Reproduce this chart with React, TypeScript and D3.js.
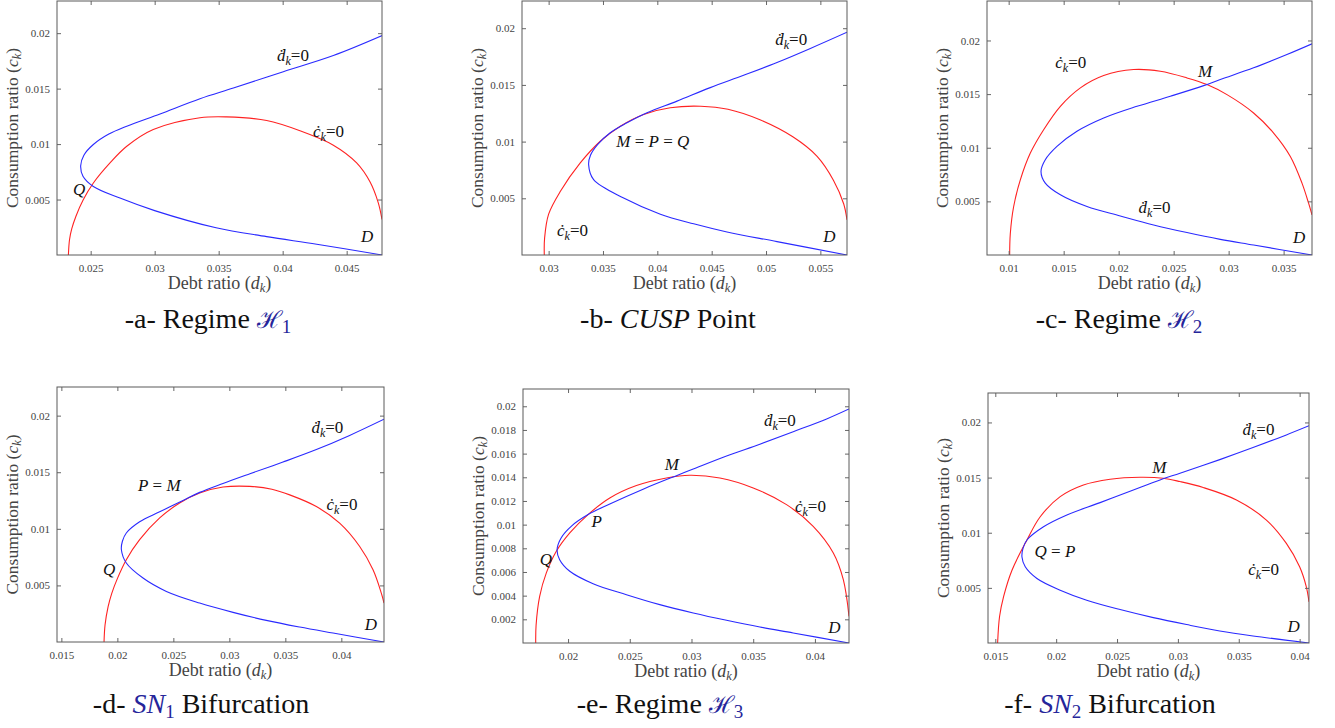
import React, { useEffect, useRef } from 'react';
import * as d3 from 'd3';

type Pt = [number, number];

// -a- Regime H1
const blueA: Pt[] = [
  [0.04779, 0.01979], [0.04396, 0.01798], [0.04005, 0.01653], [0.03615, 0.01505], [0.03354, 0.01409],
  [0.03042, 0.01272], [0.02782, 0.01161], [0.02642, 0.0109], [0.02521, 0.00996], [0.02447, 0.009],
  [0.02422, 0.00805], [0.0244, 0.0071], [0.02521, 0.00618], [0.02729, 0.00513], [0.03, 0.004],
  [0.0348, 0.00245], [0.03875, 0.00166], [0.04266, 0.00097], [0.04779, 0]
];
const redA: Pt[] = [
  [0.02326, 0], [0.02335, 0.0014], [0.02352, 0.00235], [0.02385, 0.0035], [0.02442, 0.00498],
  [0.02521, 0.00649], [0.02651, 0.0083], [0.02782, 0.0098], [0.02989, 0.01131], [0.03354, 0.01237],
  [0.03562, 0.01245], [0.03875, 0.01212], [0.04135, 0.0112], [0.04396, 0.0099], [0.04578, 0.0083],
  [0.04682, 0.0066], [0.04747, 0.0047], [0.04776, 0.0032]
];
const xTicksA = [0.025, 0.03, 0.035, 0.04, 0.045];

// -b- CUSP point
const blueB: Pt[] = [
  [0.05745, 0.01965], [0.05408, 0.01822], [0.05101, 0.01698], [0.04794, 0.01585], [0.04487, 0.01476],
  [0.04181, 0.01357], [0.03905, 0.01255], [0.03721, 0.01166], [0.03567, 0.01078], [0.0345, 0.00974],
  [0.03385, 0.0088], [0.03368, 0.00797], [0.03414, 0.00664], [0.0369, 0.00502], [0.04028, 0.0036],
  [0.04334, 0.00275], [0.04641, 0.00203], [0.05101, 0.00118], [0.05745, 0]
];
const redB: Pt[] = [
  [0.0296, 0], [0.02963, 0.0015], [0.03, 0.0036], [0.03107, 0.0056], [0.03291, 0.00812],
  [0.03475, 0.01003], [0.03659, 0.01136], [0.03874, 0.0124], [0.04119, 0.01299], [0.044, 0.01312],
  [0.0465, 0.01285], [0.0495, 0.0119], [0.0525, 0.0104], [0.0547, 0.0087], [0.0562, 0.0066],
  [0.05715, 0.0045], [0.05745, 0.0031]
];
const xTicksB = [0.03, 0.035, 0.04, 0.045, 0.05, 0.055];

// -c- Regime H2
const blueC: Pt[] = [
  [0.03758, 0.01969], [0.0353, 0.01869], [0.03227, 0.01745], [0.02924, 0.01636], [0.02773, 0.01579],
  [0.0247, 0.0148], [0.02167, 0.01386], [0.01864, 0.01277], [0.01621, 0.01153], [0.01439, 0.01012],
  [0.01333, 0.00888], [0.01294, 0.00779], [0.01333, 0.0067], [0.0147, 0.00561], [0.01712, 0.00452],
  [0.02015, 0.00364], [0.02318, 0.0028], [0.02621, 0.00209], [0.02924, 0.00146], [0.03227, 0.00093],
  [0.03758, 0]
];
const redC: Pt[] = [
  [0.01009, 0], [0.01015, 0.002], [0.01045, 0.0045], [0.01106, 0.007], [0.01197, 0.0095],
  [0.01318, 0.01168], [0.0147, 0.01386], [0.01652, 0.01558], [0.01864, 0.01673], [0.02136, 0.01729],
  [0.02379, 0.01713], [0.02621, 0.01651], [0.02803, 0.01589], [0.02985, 0.01495], [0.03227, 0.01324],
  [0.03409, 0.01137], [0.03561, 0.00919], [0.03667, 0.0067], [0.03727, 0.00483], [0.03758, 0.00374]
];
const xTicksC = [0.01, 0.015, 0.02, 0.025, 0.03, 0.035];

// -d- SN1 bifurcation
const blueD: Pt[] = [
  [0.04381, 0.01968], [0.04074, 0.01825], [0.03777, 0.017], [0.03479, 0.0159], [0.03184, 0.01487],
  [0.02943, 0.01401], [0.02735, 0.01322], [0.02586, 0.0125], [0.02378, 0.0115], [0.02199, 0.01062],
  [0.0208, 0.00963], [0.02045, 0.0089], [0.02036, 0.00815], [0.0208, 0.00698], [0.02229, 0.00565],
  [0.02438, 0.00447], [0.02735, 0.00344], [0.03033, 0.00262], [0.0333, 0.00191], [0.03628, 0.00132],
  [0.03926, 0.00079], [0.04381, 0]
];
const redD: Pt[] = [
  [0.01881, 0], [0.0189, 0.0015], [0.01917, 0.0031], [0.0195, 0.0043], [0.02, 0.0056],
  [0.0208, 0.00727], [0.02199, 0.00904], [0.02378, 0.01096], [0.02556, 0.01228], [0.02735, 0.01316],
  [0.02943, 0.01369], [0.03184, 0.01375], [0.0338, 0.0135], [0.03539, 0.013], [0.03777, 0.01197],
  [0.03985, 0.0105], [0.04164, 0.00844], [0.04283, 0.00638], [0.04357, 0.00432], [0.04381, 0.00344]
];
const xTicksD = [0.015, 0.02, 0.025, 0.03, 0.035, 0.04];

// -e- Regime H3
const blueE: Pt[] = [
  [0.04276, 0.01977], [0.04095, 0.01893], [0.03824, 0.01785], [0.03554, 0.0168], [0.03284, 0.0158],
  [0.03014, 0.0147], [0.02878, 0.01414], [0.02608, 0.013], [0.02338, 0.01175], [0.02162, 0.01085],
  [0.0203, 0.0099], [0.01945, 0.0089], [0.01911, 0.00789], [0.01932, 0.00704], [0.02014, 0.00606],
  [0.02203, 0.00501], [0.02473, 0.00408], [0.02743, 0.00324], [0.03014, 0.00254], [0.03284, 0.00192],
  [0.03554, 0.00135], [0.03824, 0.00085], [0.04276, 0]
];
const redE: Pt[] = [
  [0.01738, 0], [0.01741, 0.0015], [0.0177, 0.00394], [0.01824, 0.00592], [0.01905, 0.00775],
  [0.02014, 0.0093], [0.02162, 0.01085], [0.02338, 0.01225], [0.02554, 0.0133], [0.02797, 0.01394],
  [0.02986, 0.01417], [0.0323, 0.01394], [0.035, 0.0131], [0.0377, 0.01169], [0.03986, 0.00986],
  [0.04149, 0.00761], [0.0423, 0.00535], [0.04276, 0.00225]
];
const xTicksE = [0.02, 0.025, 0.03, 0.035, 0.04];

// -f- SN2 bifurcation
const blueF: Pt[] = [
  [0.04077, 0.0197], [0.03891, 0.01887], [0.03617, 0.01772], [0.03344, 0.01663], [0.03017, 0.0154],
  [0.02853, 0.01479], [0.02634, 0.01388], [0.02361, 0.01273], [0.02088, 0.01161], [0.01896, 0.01054],
  [0.0176, 0.00934], [0.01728, 0.0086], [0.01719, 0.0078], [0.01746, 0.00691], [0.01842, 0.00585],
  [0.02033, 0.00479], [0.02251, 0.00388], [0.02525, 0.00303], [0.02798, 0.0023], [0.03071, 0.00167],
  [0.03344, 0.00109], [0.03617, 0.00064], [0.04077, 0]
];
const redF: Pt[] = [
  [0.01519, 0], [0.01535, 0.0024], [0.01568, 0.0042], [0.01637, 0.0066], [0.0176, 0.00934],
  [0.01869, 0.01145], [0.02033, 0.01327], [0.02224, 0.01433], [0.02443, 0.01485], [0.0269, 0.01503],
  [0.0288, 0.01494], [0.03017, 0.01464], [0.03208, 0.0141], [0.03481, 0.01297], [0.03727, 0.01115],
  [0.03891, 0.00903], [0.04, 0.00691], [0.04055, 0.00509], [0.04077, 0.00373]
];
const xTicksF = [0.015, 0.02, 0.025, 0.03, 0.035, 0.04];

const yTicks = [0.005, 0.01, 0.015, 0.02];
const yTicksE = [0.002, 0.004, 0.006, 0.008, 0.01, 0.012, 0.014, 0.016, 0.018, 0.02];

// annotation text placed in data coordinates: [kind/text, d, c]
type Label = [string, number, number];
const labelsA: Label[] = [['dd', 0.03956, 0.01747], ['cd', 0.04237, 0.01068], ['Q', 0.02362, 0.00543], ['D', 0.04612, 0.00118]];
const labelsB: Label[] = [['dd', 0.05085, 0.0185], ['M = P = Q', 0.03623, 0.00956], ['cd', 0.03077, 0.00168], ['D', 0.05527, 0.00118]];
const labelsC: Label[] = [['cd', 0.01424, 0.01747], ['M', 0.02721, 0.01663], ['dd', 0.02181, 0.00396], ['D', 0.03585, 0.0011]];
const labelsD: Label[] = [['dd', 0.03733, 0.01847], ['P = M', 0.02184, 0.01331], ['cd', 0.03867, 0.01169], ['Q', 0.01872, 0.00595], ['D', 0.04209, 0.00109]];
const labelsE: Label[] = [['dd', 0.03587, 0.01836], ['M', 0.02784, 0.01458], ['P', 0.0219, 0.0098], ['cd', 0.03838, 0.01103], ['Q', 0.01771, 0.00662], ['D', 0.04108, 0.00084]];
const labelsF: Label[] = [['dd', 0.03531, 0.01888], ['M', 0.0279, 0.01545], ['Q = P', 0.01822, 0.00782], ['cd', 0.03577, 0.00615], ['D', 0.039, 0.001]];

type Part = { t: string; italic?: boolean; math?: boolean; sub?: boolean };
const captionA: Part[] = [{ t: '-a- Regime ' }, { t: 'ℋ', math: true }, { t: '1', math: true, sub: true }];
const captionB: Part[] = [{ t: '-b- ' }, { t: 'CUSP', italic: true }, { t: ' Point' }];
const captionC: Part[] = [{ t: '-c- Regime ' }, { t: 'ℋ', math: true }, { t: '2', math: true, sub: true }];
const captionD: Part[] = [{ t: '-d- ' }, { t: 'SN', math: true, italic: true }, { t: '1', math: true, sub: true }, { t: ' Bifurcation' }];
const captionE: Part[] = [{ t: '-e- Regime ' }, { t: 'ℋ', math: true }, { t: '3', math: true, sub: true }];
const captionF: Part[] = [{ t: '-f- ' }, { t: 'SN', math: true, italic: true }, { t: '2', math: true, sub: true }, { t: ' Bifurcation' }];

const panels = [
  { id: 'a', box: [57, 1, 382, 255], xd: [0.02237, 0.04776], yd: [0, 0.0229], xt: xTicksA, yt: yTicks, blue: blueA, red: redA, labels: labelsA, cap: captionA, capX: 208, capY: 328 },
  { id: 'b', box: [522, 1, 847, 255], xd: [0.02755, 0.05745], yd: [0, 0.0224], xt: xTicksB, yt: yTicks, blue: blueB, red: redB, labels: labelsB, cap: captionB, capX: 668, capY: 328 },
  { id: 'c', box: [987, 1, 1312, 255], xd: [0.00803, 0.03758], yd: [0, 0.02368], xt: xTicksC, yt: yTicks, blue: blueC, red: redC, labels: labelsC, cap: captionC, capX: 1119, capY: 328 },
  { id: 'd', box: [57, 387, 384, 642], xd: [0.01461, 0.04381], yd: [0, 0.02253], xt: xTicksD, yt: yTicks, blue: blueD, red: redD, labels: labelsD, cap: captionD, capX: 201, capY: 713 },
  { id: 'e', box: [523, 389, 849, 643], xd: [0.01635, 0.04276], yd: [0, 0.02146], xt: xTicksE, yt: yTicksE, blue: blueE, red: redE, labels: labelsE, cap: captionE, capX: 660, capY: 713 },
  { id: 'f', box: [988, 393, 1309, 643], xd: [0.0144, 0.04077], yd: [0, 0.02267], xt: xTicksF, yt: yTicks, blue: blueF, red: redF, labels: labelsF, cap: captionF, capX: 1110, capY: 713 }
];

const FONT = '"Liberation Serif", "Times New Roman", serif';
const fmt = (d: any) => String(+(+d).toFixed(4));

const App = () => {
  const svgRef = useRef<SVGSVGElement>(null);

  useEffect(() => {
    const svg = d3.select(svgRef.current);
    svg.selectAll('*').remove();

    const styleAxis = (sel: any) => {
      sel.select('.domain').remove();
      sel.selectAll('line').attr('stroke', '#666');
      sel.selectAll('text').attr('font-family', FONT).attr('font-size', 11).attr('fill', '#444');
    };

    panels.forEach(p => {
      const [x0, y0, x1, y1] = p.box;
      const x = d3.scaleLinear().domain(p.xd).range([x0, x1]);
      const y = d3.scaleLinear().domain(p.yd).range([y1, y0]);
      const g = svg.append('g');
      const clipId = `clip-${p.id}`;
      g.append('clipPath').attr('id', clipId).append('rect')
        .attr('x', x0).attr('y', y0).attr('width', x1 - x0).attr('height', y1 - y0);

      const line = d3.line<Pt>().x(d => x(d[0])).y(d => y(d[1])).curve(d3.curveCatmullRom.alpha(0.5));
      g.append('path').attr('d', line(p.red)).attr('fill', 'none').attr('stroke', '#ff2222')
        .attr('stroke-width', 1.1).attr('clip-path', `url(#${clipId})`);
      g.append('path').attr('d', line(p.blue)).attr('fill', 'none').attr('stroke', '#2a2aff')
        .attr('stroke-width', 1.1).attr('clip-path', `url(#${clipId})`);

      g.append('g').attr('transform', `translate(0,${y1})`)
        .call(d3.axisBottom(x).tickValues(p.xt).tickSize(-4).tickPadding(9).tickFormat(fmt)).call(styleAxis);
      g.append('g').attr('transform', `translate(0,${y0})`)
        .call(d3.axisTop(x).tickValues(p.xt).tickSize(-4).tickFormat(() => '')).call(styleAxis);
      g.append('g').attr('transform', `translate(${x0},0)`)
        .call(d3.axisLeft(y).tickValues(p.yt).tickSize(-4).tickPadding(7).tickFormat(fmt)).call(styleAxis);
      g.append('g').attr('transform', `translate(${x1},0)`)
        .call(d3.axisRight(y).tickValues(p.yt).tickSize(-4).tickFormat(() => '')).call(styleAxis);
      g.append('rect').attr('x', x0).attr('y', y0).attr('width', x1 - x0).attr('height', y1 - y0)
        .attr('fill', 'none').attr('stroke', '#5a5a5a').attr('stroke-width', 1);

      // axis titles
      const xl = g.append('text').attr('x', (x0 + x1) / 2).attr('y', y1 + 34).attr('text-anchor', 'middle')
        .attr('font-family', FONT).attr('font-size', 18).attr('fill', '#444');
      xl.append('tspan').text('Debt ratio (');
      xl.append('tspan').attr('font-style', 'italic').text('d');
      xl.append('tspan').attr('font-style', 'italic').attr('font-size', 12.5).attr('dy', 3).text('k');
      xl.append('tspan').attr('dy', -3).text(')');

      const yl = g.append('text').attr('transform', `translate(${x0 - 39},${(y0 + y1) / 2}) rotate(-90)`)
        .attr('text-anchor', 'middle').attr('font-family', FONT).attr('font-size', 17.5).attr('fill', '#444');
      yl.append('tspan').text('Consumption ratio (');
      yl.append('tspan').attr('font-style', 'italic').text('c');
      yl.append('tspan').attr('font-style', 'italic').attr('font-size', 12.5).attr('dy', 3).text('k');
      yl.append('tspan').attr('dy', -3).text(')');

      // curve annotations
      p.labels.forEach(([kind, d, c]) => {
        const t = g.append('text').attr('x', x(d)).attr('y', y(c))
          .attr('font-family', FONT).attr('font-size', 17).attr('fill', '#111');
        if (kind === 'dd' || kind === 'cd') {
          t.append('tspan').attr('font-style', 'italic').text(kind === 'dd' ? 'ḋ' : 'ċ');
          t.append('tspan').attr('font-style', 'italic').attr('font-size', 12).attr('dy', 4).text('k');
          t.append('tspan').attr('dy', -4).text('=0');
        } else {
          kind.split(/([A-Z])/).filter(s => s.length).forEach(s => {
            const sp = t.append('tspan').text(s);
            if (/[A-Z]/.test(s)) sp.attr('font-style', 'italic');
          });
        }
      });

      // caption
      const cap = g.append('text').attr('x', p.capX).attr('y', p.capY).attr('text-anchor', 'middle')
        .attr('font-family', FONT).attr('font-size', 28).attr('fill', '#111');
      let shifted = false;
      p.cap.forEach(part => {
        const sp = cap.append('tspan').text(part.t);
        if (part.italic) sp.attr('font-style', 'italic');
        if (part.math) sp.attr('fill', '#25259a');
        if (part.t === 'ℋ') sp.attr('font-size', 24);
        if (part.sub) { sp.attr('font-size', 19).attr('dy', 5); shifted = true; }
        else if (shifted) { sp.attr('dy', -5); shifted = false; }
      });
    });
  }, []);

  return (
    <svg ref={svgRef} width={1335} height={728}
      style={{ position: 'absolute', left: 0, top: 0, background: '#fff' }} />
  );
};

export default App;
